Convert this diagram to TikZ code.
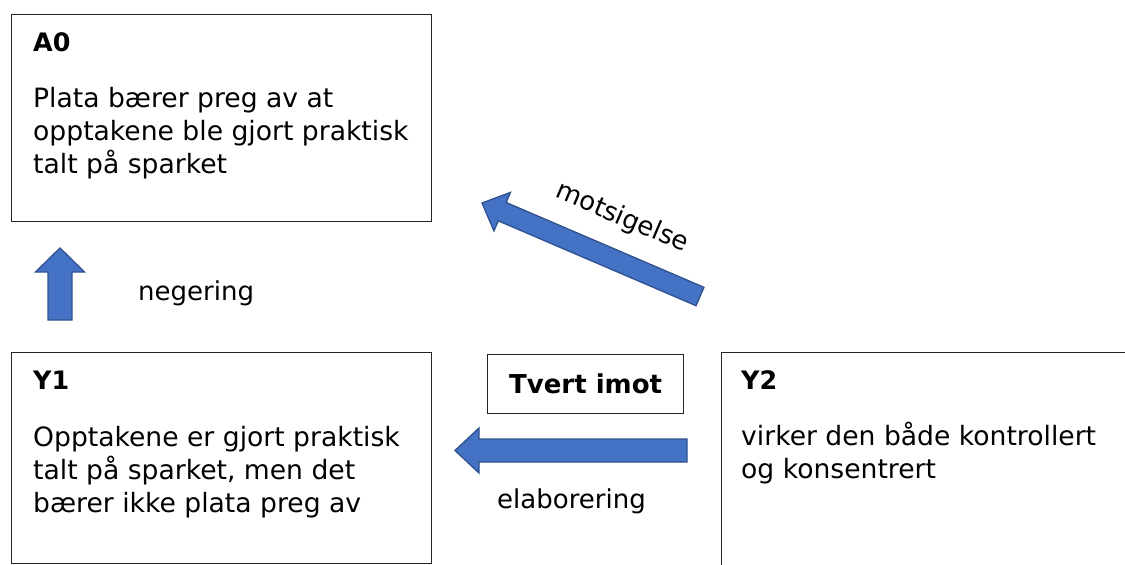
\documentclass[tikz,border=0pt]{standalone}
\usepackage{fontspec}
\setmainfont{DejaVu Sans}
\usetikzlibrary{calc}
\definecolor{arrfill}{HTML}{4472C4}
\definecolor{arrline}{HTML}{2F528F}
\newcommand{\blockarr}[5]{%
  \coordinate (hb) at ($(#2)!#5!(#1)$);
  \draw[blockarrow] ($(#1)!#3!90:(#2)$) -- ($(hb)!#3!90:(#2)$) -- ($(hb)!#4!90:(#2)$) -- (#2)
    -- ($(hb)!#4!-90:(#2)$) -- ($(hb)!#3!-90:(#2)$) -- ($(#1)!#3!-90:(#2)$) -- cycle;}
\tikzset{
  body/.style={font=\fontsize{26.6}{33}\selectfont, anchor=base west, inner sep=0pt},
  lbl/.style={font=\fontsize{26}{33}\selectfont, anchor=base west, inner sep=0pt},
  ttl/.style={font=\fontsize{25.4}{30}\selectfont\bfseries, anchor=base west, inner sep=0pt},
  frame/.style={draw=black!85, line width=1.2pt, inner sep=0pt, anchor=north west},
  blockarrow/.style={fill=arrfill, draw=arrline, line width=1.3pt, line join=miter}
}
\begin{document}
\begin{tikzpicture}[x=1pt,y=-1pt]
\useasboundingbox (0,0) rectangle (1125,565);
\clip (0,0) rectangle (1125,565);
\fill[white] (0,0) rectangle (1125,565);
% boxes
\node[frame, minimum width=420pt, minimum height=207pt] (a0box) at (11,14) {};
\node[frame, minimum width=420pt, minimum height=211pt] (y1box) at (11,352) {};
\node[frame, minimum width=430pt, minimum height=240pt] (y2box) at (721,352) {};
\node[frame, minimum width=196pt, minimum height=59pt, font=\fontsize{26}{30}\selectfont\bfseries] (tvert) at (487,354) {Tvert imot};
% A0 text
\node[ttl] (a0t) at (33,51.5) {A0};
\node[body] (a0l1) at (33,107) {Plata bærer preg av at};
\node[body] (a0l2) at (33,140) {opptakene ble gjort praktisk};
\node[body] (a0l3) at (33,173) {talt på sparket};
% Y1 text
\node[ttl] (y1t) at (33,389.5) {Y1};
\node[body] (y1l1) at (33,446) {Opptakene er gjort praktisk};
\node[body] (y1l2) at (33,479) {talt på sparket, men det};
\node[body] (y1l3) at (33,512) {bærer ikke plata preg av};
% Y2 text
\node[ttl] (y2t) at (741,389.5) {Y2};
\node[body] (y2l1) at (741,445) {virker den både kontrollert};
\node[body] (y2l2) at (741,478) {og konsentrert};
% arrows
\coordinate (uptail) at (60,320);
\coordinate (uptip) at (60,248);
\blockarr{uptail}{uptip}{12pt}{24.5pt}{24pt}
\coordinate (ltail) at (687,450.5);
\coordinate (ltip) at (455,450.5);
\blockarr{ltail}{ltip}{11.5pt}{22.5pt}{24pt}
\coordinate (dtail) at (700,296.5);
\coordinate (dtip) at (482,203);
\blockarr{dtail}{dtip}{10pt}{21pt}{22pt}
% labels
\node[lbl] (neg) at (138,300) {negering};
\node[lbl] (ela) at (497,508) {elaborering};
\node[font=\fontsize{26}{33}\selectfont, inner sep=0pt, rotate=-23] (mots) at (622,218) {motsigelse};
\end{tikzpicture}
\end{document}
